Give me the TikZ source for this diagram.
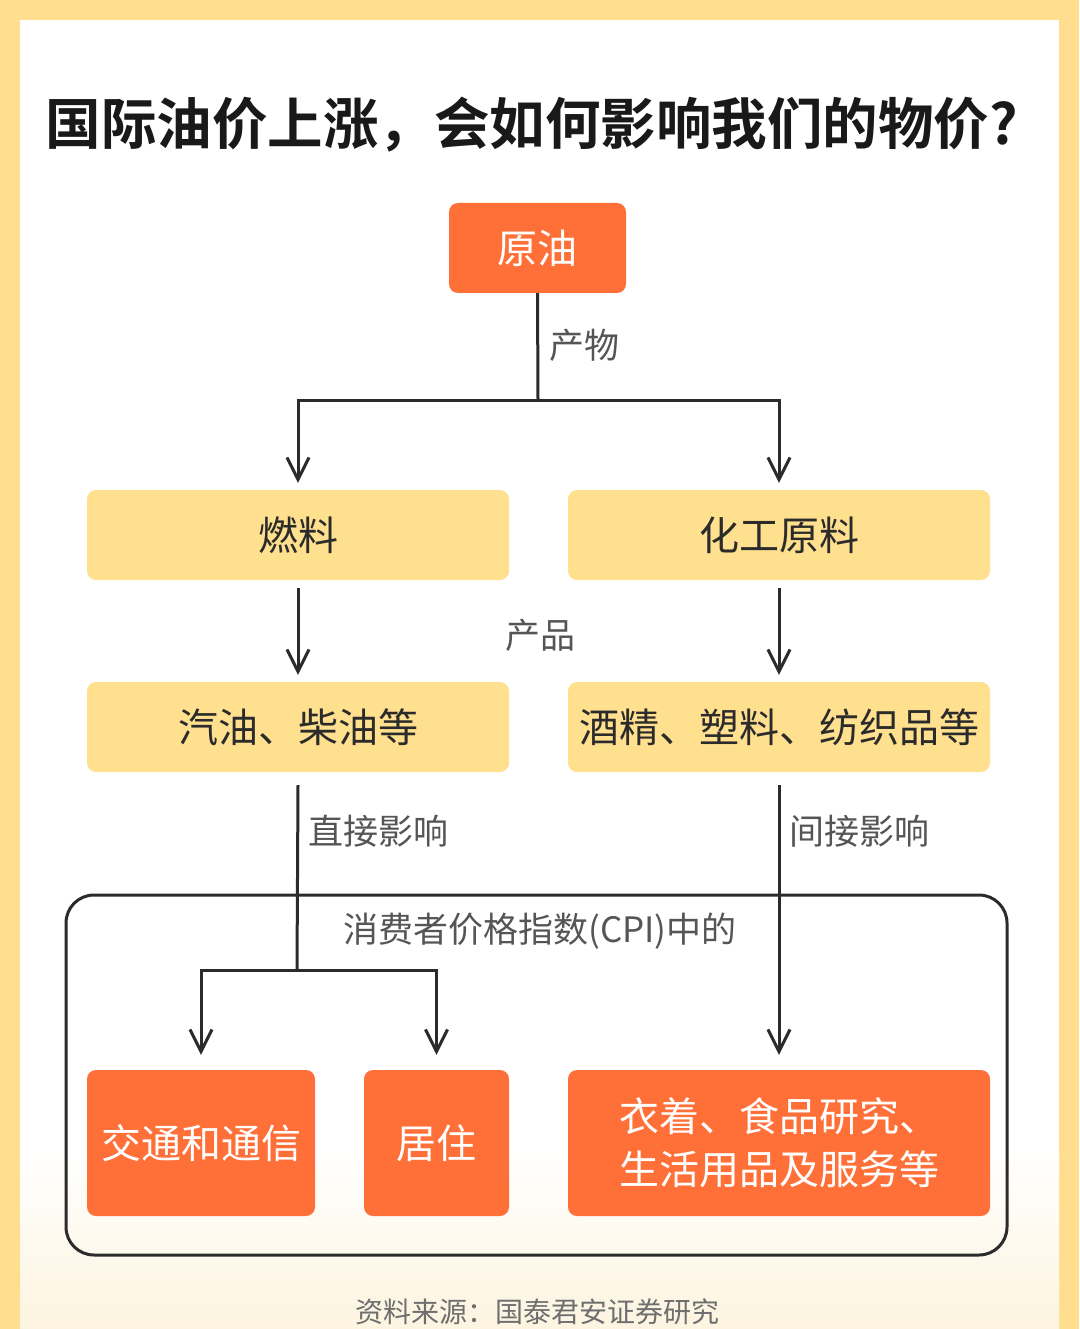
\documentclass[tikz,border=0pt]{standalone}
\usepackage{fontspec}
\setmainfont{Noto Sans CJK SC}
\newfontfamily\cjkbold{Noto Sans CJK SC Bold}
\usetikzlibrary{arrows.meta}
\definecolor{frameY}{HTML}{FFDF8F}
\definecolor{boxY}{HTML}{FFE08E}
\definecolor{boxO}{HTML}{FF7038}
\definecolor{lineC}{HTML}{2B2B2B}
\definecolor{lblC}{HTML}{555555}
\definecolor{cream}{HTML}{FDF4E0}
\tikzset{
  obox/.style={fill=boxO, rounded corners=9pt, inner sep=0pt, text=white, font=\fontsize{40}{48}\selectfont},
  ybox/.style={fill=boxY, rounded corners=9pt, inner sep=0pt, text=lineC, font=\fontsize{40}{48}\selectfont},
  lbl/.style={text=lblC, inner sep=0pt, font=\fontsize{35}{42}\selectfont},
  conn/.style={draw=lineC, line width=3pt},
  arr/.style={conn, -{Straight Barb[length=22pt,width=22pt,line width=3pt]}},
}
\begin{document}
\begin{tikzpicture}[x=1pt,y=-1pt]
\useasboundingbox (0,0) rectangle (1079,1329);
\fill[frameY] (0,0) rectangle (1079,1329);
\fill[white] (20,20) rectangle (1059,1329);
\shade[top color=white, bottom color=cream] (20,1150) rectangle (1059,1329);
% title
\node[inner sep=0pt, text=black!90, font=\cjkbold\fontsize{55.5}{62}\selectfont] (title) at (532,125) {国际油价上涨，会如何影响我们的物价?};
% boxes
\node[obox, minimum width=177pt, minimum height=90pt] (crude) at (537.5,248) {原油};
\node[ybox, minimum width=422pt, minimum height=90pt] (fuel) at (298,535) {燃料};
\node[ybox, minimum width=422pt, minimum height=90pt] (chem) at (779,535) {化工原料};
\node[ybox, minimum width=422pt, minimum height=90pt] (gas) at (298,727) {汽油、柴油等};
\node[ybox, minimum width=422pt, minimum height=90pt] (alc) at (779,727) {酒精、塑料、纺织品等};
% CPI container
\draw[draw=lineC, line width=3pt, rounded corners=28pt] (66,895) rectangle (1007,1255);
\node[lbl] (cpi) at (540,931) {消费者价格指数(CPI)中的};
\node[obox, minimum width=228pt, minimum height=146pt] (trans) at (201,1143) {交通和通信};
\node[obox, minimum width=145pt, minimum height=146pt] (home) at (436.5,1143) {居住};
\node[obox, minimum width=422pt, minimum height=146pt] (cloth) at (779,1143) {};
\node[inner sep=0pt, text=white, align=left, anchor=west, font=\fontsize{40}{53}\selectfont] (clothtxt) at (619,1143) {衣着、食品研究、\\生活用品及服务等};
% connectors
\coordinate (j1) at (538,400);
\draw[conn] (crude.south) -- (j1);
\draw[arr] (j1) -| ([yshift=7pt]fuel.north);
\draw[arr] (j1) -| ([yshift=7pt]chem.north);
\node[lbl, anchor=west] (chan) at (549,345) {产物};
\node[lbl] (prod) at (540,635) {产品};
\draw[arr] ([yshift=-8pt]fuel.south) -- ([yshift=7pt]gas.north);
\draw[arr] ([yshift=-8pt]chem.south) -- ([yshift=7pt]alc.north);
\coordinate (j2) at (297,970);
\draw[conn] ([yshift=-13pt]gas.south) -- (j2);
\draw[arr] (j2) -| ([yshift=15pt]trans.north);
\draw[arr] (j2) -| ([yshift=15pt]home.north);
\draw[arr] ([yshift=-13pt]alc.south) -- ([yshift=15pt]cloth.north);
\node[lbl, anchor=west] (direct) at (308,831) {直接影响};
\node[lbl, anchor=west] (indirect) at (789,831) {间接影响};
% source
\node[inner sep=0pt, text=lblC!85, font=\fontsize{28}{33}\selectfont] (src) at (537,1312) {资料来源：国泰君安证券研究};
\end{tikzpicture}
\end{document}
